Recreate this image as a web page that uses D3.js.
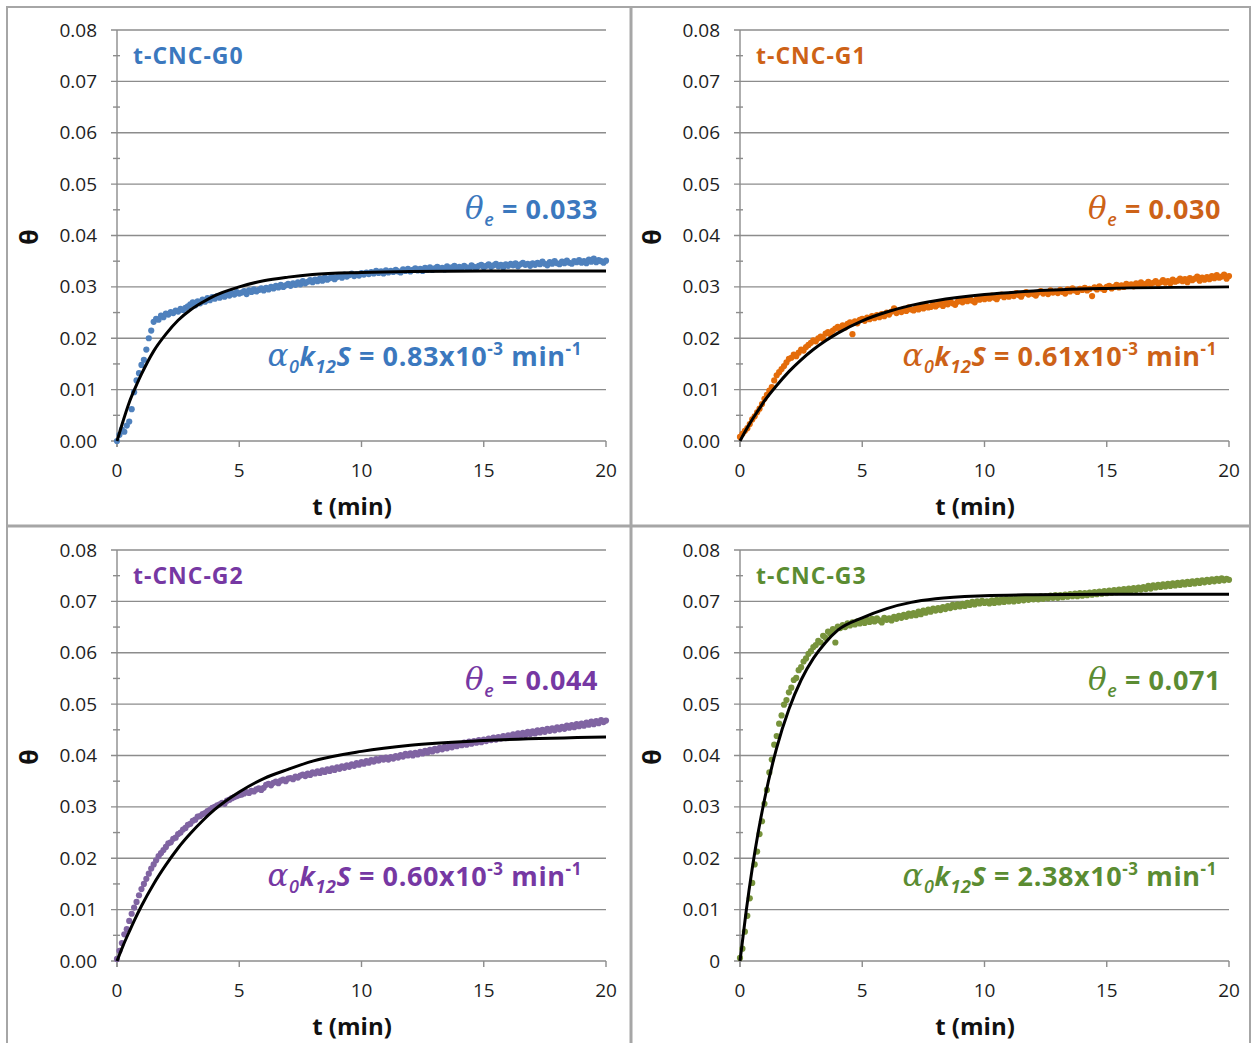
<!DOCTYPE html>
<html>
<head>
<meta charset="utf-8">
<script src="https://cdn.jsdelivr.net/npm/d3@7"></script>
<style>
body { margin: 0; background: #fff; }
svg { display: block; }
</style>
</head>
<body>
<svg width="1253" height="1043"></svg>
<script>
// measured theta values, sampled every 0.1 min from 0 to 20 (units of 1e-4)
var times = d3.range(0, 201).map(function(i) { return i / 10; });

var g0Theta = [0,12,22,18,30,38,62,95,118,132,148,158,178,200,215,232,238,236,244,241,248,
  246,251,249,254,252,257,255,259,262,266, 270,264,272,268,275,271,278,274,280,277,
  282,279,284,281,286,283,288,285,290,287, 289,292,286,293,290,295,291,294,297,293,
  298,295,300,297,302,299,304,300,303,306, 302,307,304,309,305,311,307,310,313,309,
  314,311,316,312,318,314,317,320,315,319, 322,318,324,320,323,326,321,325,322,327,
  324,328,325,329,326,331,327,330,326,332, 328,331,329,333,330,328,334,331,335,330,
  333,336,332,335,331,337,334,338,333,336, 339,335,337,334,340,336,338,341,336,339,
  337,341,338,335,342,339,337,341,343,338, 341,344,339,342,345,340,343,338,344,341,
  345,342,346,340,344,347,343,345,341,346, 343,347,344,349,345,342,348,345,350,346,
  344,349,346,351,347,345,350,348,352,347, 350,346,353,349,355,348,352,350,347,351];

var g1Theta = [8,14,20,25,33,42,48,56,63,72,82,90,98,105,118,128,134,140,146,153,160,
  162,168,165,172,178,176,183,187,191,196, 194,200,203,199,209,212,208,215,219,222,
  218,225,221,228,231,208,233,229,236,238, 234,240,237,243,239,245,241,247,243,250,
  246,252,258,249,254,251,257,253,260,256, 254,259,256,262,258,264,260,261,266,262,
  265,268,263,270,266,272,268,265,271,274, 270,275,272,277,273,270,278,275,279,276,
  281,277,283,279,276,282,285,280,283,281, 286,282,288,284,281,287,290,285,288,286,
  283,289,292,287,290,286,293,289,291,288, 294,290,287,295,291,297,293,290,296,294,
  298,293,296,282,299,295,301,297,294,300, 302,297,300,304,299,303,300,306,302,305,
  301,307,304,309,303,306,310,305,308,311, 306,309,313,308,311,307,314,310,312,316,
  311,315,309,317,313,316,320,312,318,314, 319,315,321,317,323,318,320,324,316,321];

var g2Theta = [4,20,35,52,62,78,92,104,115,128,140,150,160,170,180,188,196,204,210,216,222,
  229,231,238,240,247,250,256,259,265,267, 273,275,281,282,286,288,292,294,298,300,
  303,305,308,306,312,314,317,319,321,323, 324,326,329,327,331,330,334,336,333,337,
  343,345,342,347,349,346,351,353,350,355, 356,354,359,357,361,363,360,365,362,367,
  365,369,366,371,368,373,370,375,372,377, 374,379,376,381,378,383,380,385,382,387,
  384,389,386,391,388,393,390,395,392,396, 392,397,394,399,396,401,398,403,400,404,
  400,405,402,407,404,409,406,411,408,413, 410,415,412,417,414,419,416,421,418,422,
  420,425,421,427,423,428,425,430,426,431, 428,433,430,435,431,436,433,438,434,439,
  436,441,437,443,439,444,440,446,442,447, 443,449,445,450,446,452,448,453,449,455,
  451,456,452,458,454,459,455,461,457,462, 458,464,460,466,461,467,463,469,465,468];

var g3Theta = [6,24,57,88,122,152,188,213,247,272,306,333,367,392,421,438,462,478,499,508,523,
  532,547,551,566,572,583,589,598,603,611, 615,623,620,633,629,641,637,646,620,651,
  648,654,650,657,653,659,655,661,657,662, 658,664,660,666,661,667,663,659,668,664,
  667,663,670,666,672,668,674,670,676,672, 677,673,680,675,682,678,684,680,686,682,
  687,683,689,685,691,687,693,689,694,690, 695,691,697,693,699,694,700,696,701,697,
  700,696,702,697,703,698,704,699,705,700, 705,700,706,701,707,702,708,703,708,704,
  709,704,710,705,710,706,711,707,712,707, 712,708,713,709,714,710,715,710,716,711,
  716,712,717,713,718,714,719,715,720,716, 721,717,722,718,723,719,724,720,725,721,
  726,722,727,723,728,724,730,725,731,727, 732,728,733,729,734,730,735,731,736,732,
  737,733,738,734,739,735,740,736,741,737, 742,738,743,739,744,740,745,741,744,742];

// fitted curves (units of 1e-4)
var fitTimes = [0,0.25,0.5,0.75,1,1.5,2,2.5,3,3.5,4,5,6,7,8,10,12,15,20];
var g0Fit = [0,39,75,104,130,175,208,235,255,270,283,300,312,319,324,328,330,331,331];
var g1Fit = [0,22,42,60,78,108,135,158,178,195,210,234,251,264,273,285,292,297,300];
var g2Fit = [0,30,57,83,107,150,187,220,248,273,295,329,355,373,389,408,420,429,436];
var g3Fit = [0,96,180,252,314,415,490,547,589,620,644,668,686,698,705,711,713,714,714];

var sampleNames = ["t-CNC-G0", "t-CNC-G1", "t-CNC-G2", "t-CNC-G3"];
var thetaE = ["0.033", "0.030", "0.044", "0.071"];
var rateK = ["0.83", "0.61", "0.60", "2.38"];
var yTicks = [0, 0.01, 0.02, 0.03, 0.04, 0.05, 0.06, 0.07, 0.08];
var xTicks = [0, 5, 10, 15, 20];

var svg = d3.select("svg");
var FONT = "'Open Sans', sans-serif";
var GRID = "#8c8c8c";

var panels = [
  {theta: g0Theta, fit: g0Fit, dot: "#4f81bd", ink: "#3b78be", col: 0, row: 0, zero: "0.00"},
  {theta: g1Theta, fit: g1Fit, dot: "#e46c0a", ink: "#cd6217", col: 1, row: 0, zero: "0.00"},
  {theta: g2Theta, fit: g2Fit, dot: "#8064a2", ink: "#7638a3", col: 0, row: 1, zero: "0.00"},
  {theta: g3Theta, fit: g3Fit, dot: "#77933c", ink: "#5b8c32", col: 1, row: 1, zero: "0"}
];

// frame and dividers
svg.append("rect").attr("x", 7).attr("y", 7).attr("width", 1243).attr("height", 1045)
  .attr("fill", "none").attr("stroke", "#a6a6a6").attr("stroke-width", 2);
svg.append("line").attr("x1", 631).attr("x2", 631).attr("y1", 7).attr("y2", 1043)
  .attr("stroke", "#a6a6a6").attr("stroke-width", 3);
svg.append("line").attr("x1", 7).attr("x2", 1250).attr("y1", 526).attr("y2", 526)
  .attr("stroke", "#a6a6a6").attr("stroke-width", 3);

function rich(g, x, y, color, spacing, parts) {
  var t = g.append("text").attr("x", x).attr("y", y).attr("text-anchor", "end")
    .attr("fill", color).attr("font-family", FONT).attr("letter-spacing", spacing);
  var shift = 0;
  parts.forEach(function(p) {
    var target = p.sub ? 7 : (p.sup ? -11 : 0);
    t.append("tspan").text(p.s).attr("dy", target - shift)
      .attr("font-size", p.size)
      .attr("font-weight", p.w || 700)
      .attr("font-style", p.it ? "italic" : "normal")
      .attr("font-family", p.serif ? "'DejaVu Serif', serif" : FONT);
    shift = target;
  });
  return t;
}

panels.forEach(function(p, i) {
  var ox = p.col * 623, oy = p.row * 520;
  var left = 117 + ox, right = 606 + ox, top = 30 + oy, bottom = 441 + oy;
  var g = svg.append("g");

  var x = d3.scaleLinear().domain([0, 20]).range([left, right]);
  var y = d3.scaleLinear().domain([0, 0.08]).range([bottom, top]);

  // grid lines (act as major ticks too)
  g.selectAll(".grid").data(yTicks).enter().append("line")
    .attr("x1", left - 6).attr("x2", right)
    .attr("y1", function(d) { return y(d); }).attr("y2", function(d) { return y(d); })
    .attr("stroke", GRID).attr("stroke-width", 1.4);

  // minor ticks
  g.selectAll(".minor").data(d3.range(0.005, 0.08, 0.01)).enter().append("line")
    .attr("x1", left - 4).attr("x2", left + 3)
    .attr("y1", function(d) { return y(d); }).attr("y2", function(d) { return y(d); })
    .attr("stroke", GRID).attr("stroke-width", 1.4);

  g.append("line").attr("x1", left).attr("x2", left).attr("y1", top).attr("y2", bottom + 6)
    .attr("stroke", GRID).attr("stroke-width", 1.4);

  g.selectAll(".xt").data(xTicks).enter().append("line")
    .attr("x1", function(d) { return x(d); }).attr("x2", function(d) { return x(d); })
    .attr("y1", bottom).attr("y2", bottom + 6)
    .attr("stroke", GRID).attr("stroke-width", 1.4);

  // tick labels
  g.selectAll(".yl").data(yTicks).enter().append("text")
    .attr("x", left - 20).attr("y", function(d) { return y(d) + 6.5; })
    .attr("text-anchor", "end").attr("font-family", FONT).attr("font-size", 19)
    .attr("fill", "#1e1e1e")
    .text(function(d) { return d === 0 ? p.zero : d3.format(".2f")(d); });

  g.selectAll(".xl").data(xTicks).enter().append("text")
    .attr("x", function(d) { return x(d); }).attr("y", bottom + 36)
    .attr("text-anchor", "middle").attr("font-family", FONT).attr("font-size", 19)
    .attr("fill", "#1e1e1e")
    .text(function(d) { return d; });

  // axis titles
  g.append("text").attr("x", 352 + ox).attr("y", 515 + oy).attr("text-anchor", "middle")
    .attr("font-family", FONT).attr("font-weight", 700).attr("font-size", 24)
    .attr("fill", "#111").text("t (min)");
  g.append("text").attr("transform", "translate(" + (38 + ox) + "," + (237 + oy) + ") rotate(-90)")
    .attr("text-anchor", "middle").attr("font-family", FONT).attr("font-weight", 700)
    .attr("font-size", 25).attr("fill", "#111").text("θ");

  // data points
  g.selectAll(".pt").data(p.theta).enter().append("circle")
    .attr("cx", function(d, j) { return x(times[j]); })
    .attr("cy", function(d) { return y(d / 10000); })
    .attr("r", 3.1).attr("fill", p.dot);

  // fitted curve
  var line = d3.line()
    .x(function(d, j) { return x(fitTimes[j]); })
    .y(function(d) { return y(d / 10000); })
    .curve(d3.curveMonotoneX);
  g.append("path").datum(p.fit).attr("d", line)
    .attr("fill", "none").attr("stroke", "#000").attr("stroke-width", 3);

  // annotations
  g.append("text").attr("x", 133 + ox).attr("y", 64 + oy)
    .attr("font-family", FONT).attr("font-weight", 700).attr("font-size", 23)
    .attr("letter-spacing", 1).attr("fill", p.ink).text(sampleNames[i]);

  rich(g, 598 + ox, (p.row ? 690 : 219), p.ink, 0.6, [
    {s: "θ", it: true, serif: true, size: 31, w: 400},
    {s: "e", it: true, sub: true, size: 18, w: 600},
    {s: " = " + thetaE[i], size: 27}
  ]);

  rich(g, 582 + p.col * 635, 366 + oy, p.ink, 0.6, [
    {s: "α", it: true, serif: true, size: 31, w: 400},
    {s: "0", it: true, sub: true, size: 18, w: 600},
    {s: "k", it: true, size: 27},
    {s: "12", it: true, sub: true, size: 18},
    {s: "S", it: true, size: 27},
    {s: " = " + rateK[i] + "x10", size: 27},
    {s: "-3", sup: true, size: 17},
    {s: " min", size: 27},
    {s: "-1", sup: true, size: 17}
  ]);
});
</script>
</body>
</html>
